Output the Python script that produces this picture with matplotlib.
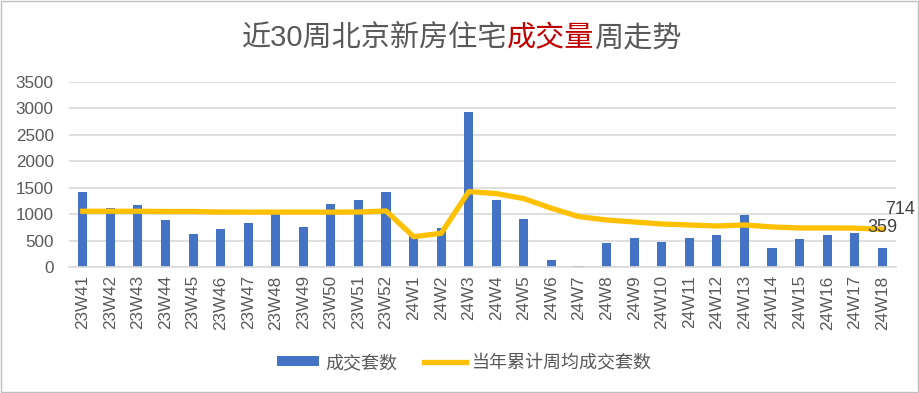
import numpy as np
import matplotlib
matplotlib.use('Agg')
import matplotlib.pyplot as plt
from matplotlib.patches import Rectangle

plt.rcParams['font.family'] = ['Liberation Sans', 'Noto Sans CJK SC', 'DejaVu Sans']

# week labels
weeks = ['23W41', '23W42', '23W43', '23W44', '23W45', '23W46', '23W47', '23W48',
         '23W49', '23W50', '23W51', '23W52', '24W1', '24W2', '24W3', '24W4',
         '24W5', '24W6', '24W7', '24W8', '24W9', '24W10', '24W11', '24W12',
         '24W13', '24W14', '24W15', '24W16', '24W17', '24W18']

# weekly deals (bars)
deals = [1410, 1120, 1170, 890, 625, 720, 835, 1000, 760, 1195, 1270, 1410,
         580, 740, 2940, 1270, 910, 140, 25, 455, 550, 475, 550, 605,
         985, 360, 530, 605, 645, 359]

# running weekly average for the year (line)
avg = [1055, 1055, 1055, 1050, 1050, 1040, 1038, 1038, 1038, 1038, 1040, 1060,
       574, 638, 1426, 1389, 1294, 1111, 953, 890, 852, 814, 795, 776,
       795, 758, 739, 739, 735, 714]

fig = plt.figure(figsize=(9.2, 3.93), dpi=100)
fig.patches.append(Rectangle((0.001, 0.002), 0.997, 0.995, transform=fig.transFigure,
                             fill=False, edgecolor='#bfbfbf', linewidth=1))
ax = fig.add_axes([0.075, 0.3206, 0.899, 0.4707])

x = np.arange(len(weeks))
bars = ax.bar(x, deals, width=0.33, color='#4472C4', label='成交套数', zorder=2)
line, = ax.plot(x, avg, color='#FFC000', linewidth=3.8, label='当年累计周均成交套数', zorder=3)

ax.set_xlim(-0.5, len(weeks) - 0.5)
ax.set_ylim(0, 3500)
ax.set_yticks(range(0, 3501, 500))
ax.set_xticks(x)
ax.set_xticklabels(weeks, rotation=90)
ax.tick_params(length=0, labelsize=12.3, colors='#595959')
ax.tick_params(axis='y', pad=11)
ax.tick_params(axis='x', pad=6)
ax.grid(axis='y', color='#d9d9d9', linewidth=1.2, zorder=0)
for s in ['top', 'right', 'left']:
    ax.spines[s].set_visible(False)
ax.spines['bottom'].set_color('#d9d9d9')
ax.spines['bottom'].set_linewidth(1.2)

# data labels at the last week
ax.annotate(str(avg[-1]), (x[-1], avg[-1]), xytext=(2, 14), textcoords='offset points',
            fontsize=13, color='#404040', ha='left', va='center', annotation_clip=False)
ax.annotate(str(deals[-1]), (x[-1], avg[-1]), xytext=(0, 1), textcoords='offset points',
            fontsize=13, color='#404040', ha='center', va='center', annotation_clip=False)

# title with coloured words
parts = [('近30周北京新房住宅', '#595959'), ('成交量', '#C00000'), ('周走势', '#595959')]
texts = []
for s, c in parts:
    if not texts:
        t = fig.text(0, 0.903, s, color=c, fontsize=21, va='center', ha='left')
    else:
        t = ax.annotate(s, xy=(1, 0), xycoords=texts[-1], color=c, fontsize=21,
                        va='bottom', ha='left')
    texts.append(t)
fig.canvas.draw()
r = fig.canvas.get_renderer()
x0 = texts[0].get_window_extent(r).x0
x1 = texts[-1].get_window_extent(r).x1
w = (x1 - x0) / fig.bbox.width
texts[0].set_x(0.502 - w / 2)

fig.legend([bars, line], ['成交套数', '当年累计周均成交套数'], loc='center',
           bbox_to_anchor=(0.505, 1 - 363 / 393), ncol=2, frameon=False,
           fontsize=13, labelcolor='#595959', handlelength=2.3, handleheight=0.45,
           handletextpad=0.35, columnspacing=1.5)

fig.savefig('out.png', dpi=100)
